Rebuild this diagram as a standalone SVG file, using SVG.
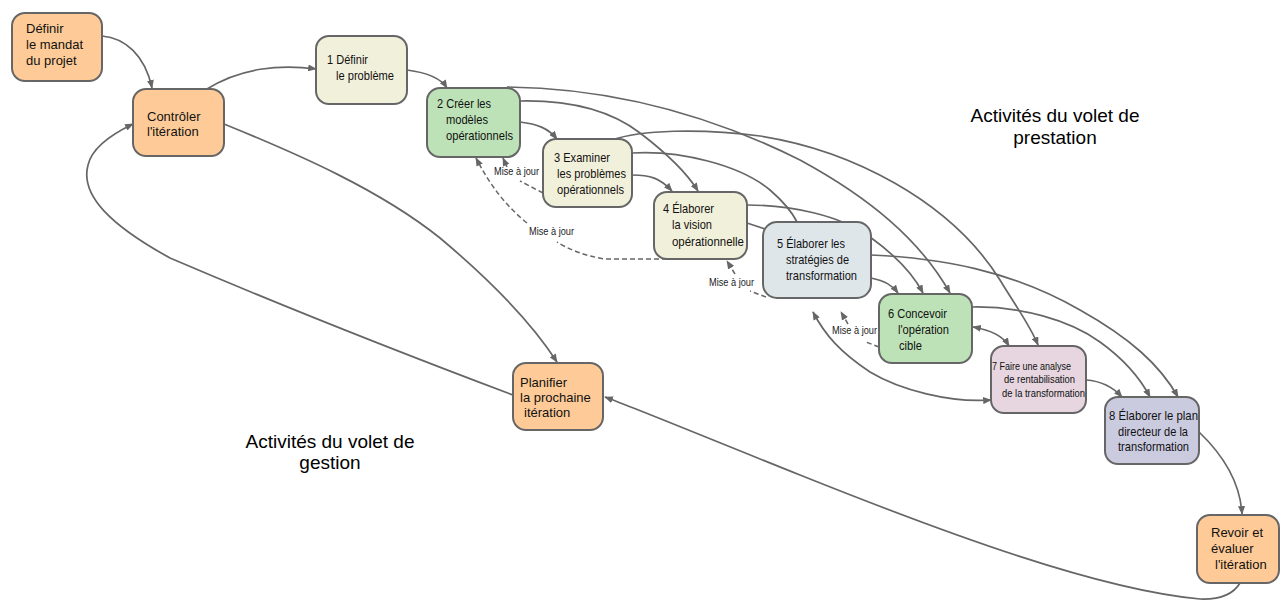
<svg xmlns="http://www.w3.org/2000/svg" width="1280" height="600" viewBox="0 0 1280 600">
<defs>
<marker id="ah" viewBox="0 0 10 8" refX="9" refY="4" markerWidth="9" markerHeight="7" markerUnits="userSpaceOnUse" orient="auto-start-reverse">
<path d="M0,0 L10,4 L0,8 Z" fill="#666"/>
</marker>
<style>
.box{stroke:#666;stroke-width:2}
.or{fill:#FECB98}
.cr{fill:#F1F0DA}
.gr{fill:#BDE2B7}
.bl{fill:#DFE6EA}
.pk{fill:#E7D6E0}
.lv{fill:#CBCBE0}
.t{font-family:"Liberation Sans",Arial,sans-serif;font-size:13px;fill:#111}
.n{font-family:"Liberation Sans",Arial,sans-serif;font-size:13.5px;fill:#111}
.s{font-family:"Liberation Sans",Arial,sans-serif;font-size:11.5px;fill:#111}
.m{font-family:"Liberation Sans",Arial,sans-serif;font-size:11px;fill:#222}
.h{font-family:"Liberation Sans",Arial,sans-serif;font-size:19px;fill:#000;text-anchor:middle}
.c{fill:none;stroke:#666;stroke-width:1.7}
.d{fill:none;stroke:#666;stroke-width:1.5;stroke-dasharray:5,3}
</style>
</defs>
<rect width="1280" height="600" fill="#fff"/>

<g id="connectors">
<path class="c" d="M102,36 C125,38 145,55 152,88" marker-end="url(#ah)"/>
<path class="c" d="M207,89 C240,68 280,64 316,69" marker-end="url(#ah)"/>
<path class="c" d="M407,70 C430,73 442,80 447,88" marker-end="url(#ah)"/>
<path class="c" d="M224,124 C300,155 380,190 440,238 C490,280 530,320 557,362" marker-end="url(#ah)"/>
<path class="c" d="M513,395 C420,360 280,305 170,258 C110,225 80,195 88,165 C92,148 110,135 133,124" marker-end="url(#ah)"/>
<path class="c" d="M1240,583 Q1230,600 1200,599 C1100,590 950,535 800,475 C700,435 640,410 605,397" marker-end="url(#ah)"/>
<path class="c" d="M1199,432 C1220,452 1240,480 1242,514" marker-end="url(#ah)"/>
<path class="c" d="M520,122 C537,124 548,128 557,139" marker-end="url(#ah)"/>
<path class="c" d="M632,175 C650,175 660,178 672,191" marker-end="url(#ah)"/>
<path class="c" d="M520,101 C570,100 610,110 640,133 C665,152 685,170 698,191" marker-end="url(#ah)"/>
<path class="c" d="M507,87 C600,88 700,110 800,160 C870,198 920,240 950,293" marker-end="url(#ah)"/>
<path class="c" d="M612,140 C640,130 700,128 760,136 C850,150 950,200 1000,280 C1015,305 1030,325 1038,345" marker-end="url(#ah)"/>
<path class="c" d="M632,153 C680,150 740,165 770,190 C785,203 792,212 797,222"/>
<path class="c" d="M747,205 C790,205 840,215 870,237 C895,255 912,272 923,293" marker-end="url(#ah)"/>
<path class="c" d="M747,223 L765,229"/>
<path class="c" d="M871,278 C885,281 892,285 898,293" marker-end="url(#ah)"/>
<path class="c" d="M871,255 C940,258 1010,270 1080,310 C1130,338 1160,365 1178,397" marker-end="url(#ah)"/>
<path class="c" d="M972,307 C1020,306 1070,320 1100,342 C1125,360 1140,378 1150,397" marker-end="url(#ah)"/>
<path class="c" d="M1086,380 C1100,381 1112,386 1122,397" marker-end="url(#ah)"/>
<path class="c" d="M973,327 C990,330 1003,336 1009,346" marker-start="url(#ah)" marker-end="url(#ah)"/>
<path class="c" d="M991,400 C950,403 900,390 870,372 C840,352 825,335 813,312" marker-start="url(#ah)" marker-end="url(#ah)"/>
<path class="d" d="M543,193 L520,181"/>
<path class="d" d="M507,167 L503,158" marker-end="url(#ah)"/>
<path class="d" d="M667,259 L605,259 C585,256 568,249 557,242"/>
<path class="d" d="M527,223 C505,205 490,185 476,158" marker-end="url(#ah)"/>
<path class="d" d="M766,297 L750,291"/>
<path class="d" d="M735,274 L727,261" marker-end="url(#ah)"/>
<path class="d" d="M879,347 L866,342"/>
<path class="d" d="M848,324 L841,312" marker-end="url(#ah)"/>
<text class="m" x="494" y="175" textLength="45" lengthAdjust="spacingAndGlyphs">Mise à jour</text>
<text class="m" x="529" y="235" textLength="45" lengthAdjust="spacingAndGlyphs">Mise à jour</text>
<text class="m" x="709" y="286" textLength="45" lengthAdjust="spacingAndGlyphs">Mise à jour</text>
<text class="m" x="832" y="334" textLength="45" lengthAdjust="spacingAndGlyphs">Mise à jour</text>
</g>

<g id="mandat">
<rect class="box or" x="12" y="13" width="90" height="68" rx="13"/>
<text class="t" x="26" y="33">Définir</text>
<text class="t" x="26" y="49">le mandat</text>
<text class="t" x="26" y="65">du projet</text>
</g>
<g id="controler">
<rect class="box or" x="133" y="89" width="91" height="67" rx="13"/>
<text class="t" x="147" y="121">Contrôler</text>
<text class="t" x="147" y="136">l'itération</text>
</g>
<g id="etape1">
<rect class="box cr" x="316" y="36" width="91" height="68" rx="13"/>
<text class="n" x="327" y="64" textLength="41" lengthAdjust="spacingAndGlyphs">1 Définir</text>
<text class="n" x="336" y="80" textLength="58" lengthAdjust="spacingAndGlyphs">le problème</text>
</g>
<g id="etape2">
<rect class="box gr" x="427" y="88" width="93" height="69" rx="13"/>
<text class="n" x="437" y="108" textLength="54" lengthAdjust="spacingAndGlyphs">2 Créer les</text>
<text class="n" x="446" y="124" textLength="42" lengthAdjust="spacingAndGlyphs">modèles</text>
<text class="n" x="446" y="140" textLength="67" lengthAdjust="spacingAndGlyphs">opérationnels</text>
</g>
<g id="etape3">
<rect class="box cr" x="543" y="139" width="89" height="68" rx="13"/>
<text class="n" x="554" y="162" textLength="56" lengthAdjust="spacingAndGlyphs">3 Examiner</text>
<text class="n" x="557" y="178" textLength="69" lengthAdjust="spacingAndGlyphs">les problèmes</text>
<text class="n" x="557" y="194" textLength="67" lengthAdjust="spacingAndGlyphs">opérationnels</text>
</g>
<g id="etape4">
<rect class="box cr" x="654" y="192" width="93" height="67" rx="13"/>
<text class="n" x="663" y="213" textLength="51" lengthAdjust="spacingAndGlyphs">4 Élaborer</text>
<text class="n" x="672" y="229" textLength="40" lengthAdjust="spacingAndGlyphs">la vision</text>
<text class="n" x="672" y="246" textLength="72" lengthAdjust="spacingAndGlyphs">opérationnelle</text>
</g>
<g id="etape5">
<rect class="box bl" x="763" y="222" width="108" height="76" rx="14"/>
<text class="n" x="777" y="248" textLength="68" lengthAdjust="spacingAndGlyphs">5 Élaborer les</text>
<text class="n" x="786" y="264" textLength="63" lengthAdjust="spacingAndGlyphs">stratégies de</text>
<text class="n" x="786" y="280" textLength="71" lengthAdjust="spacingAndGlyphs">transformation</text>
</g>
<g id="etape6">
<rect class="box gr" x="879" y="294" width="93" height="69" rx="13"/>
<text class="n" x="888" y="318" textLength="59" lengthAdjust="spacingAndGlyphs">6 Concevoir</text>
<text class="n" x="898" y="334" textLength="51" lengthAdjust="spacingAndGlyphs">l'opération</text>
<text class="n" x="899" y="350" textLength="23" lengthAdjust="spacingAndGlyphs">cible</text>
</g>
<g id="etape7">
<rect class="box pk" x="991" y="346" width="95" height="67" rx="13"/>
<text class="s" x="992" y="370" textLength="79" lengthAdjust="spacingAndGlyphs">7 Faire une analyse</text>
<text class="s" x="1004" y="383" textLength="71" lengthAdjust="spacingAndGlyphs">de rentabilisation</text>
<text class="s" x="1002" y="397" textLength="83" lengthAdjust="spacingAndGlyphs">de la transformation</text>
</g>
<g id="etape8">
<rect class="box lv" x="1105" y="397" width="94" height="67" rx="13"/>
<text class="n" x="1109" y="420" textLength="89" lengthAdjust="spacingAndGlyphs">8 Élaborer le plan</text>
<text class="n" x="1118" y="436" textLength="70" lengthAdjust="spacingAndGlyphs">directeur de la</text>
<text class="n" x="1118" y="451" textLength="71" lengthAdjust="spacingAndGlyphs">transformation</text>
</g>
<g id="revoir">
<rect class="box or" x="1197" y="515" width="82" height="68" rx="13"/>
<text class="t" x="1211" y="537">Revoir et</text>
<text class="t" x="1211" y="553">évaluer</text>
<text class="t" x="1215" y="569">l'itération</text>
</g>
<g id="planifier">
<rect class="box or" x="513" y="363" width="90" height="67" rx="13"/>
<text class="t" x="520" y="387">Planifier</text>
<text class="t" x="520" y="402">la prochaine</text>
<text class="t" x="524" y="417">itération</text>
</g>
<g id="titres">
<text class="h" x="1055" y="122">Activités du volet de</text>
<text class="h" x="1055" y="144">prestation</text>
<text class="h" x="330" y="448">Activités du volet de</text>
<text class="h" x="330" y="469">gestion</text>
</g>
</svg>
